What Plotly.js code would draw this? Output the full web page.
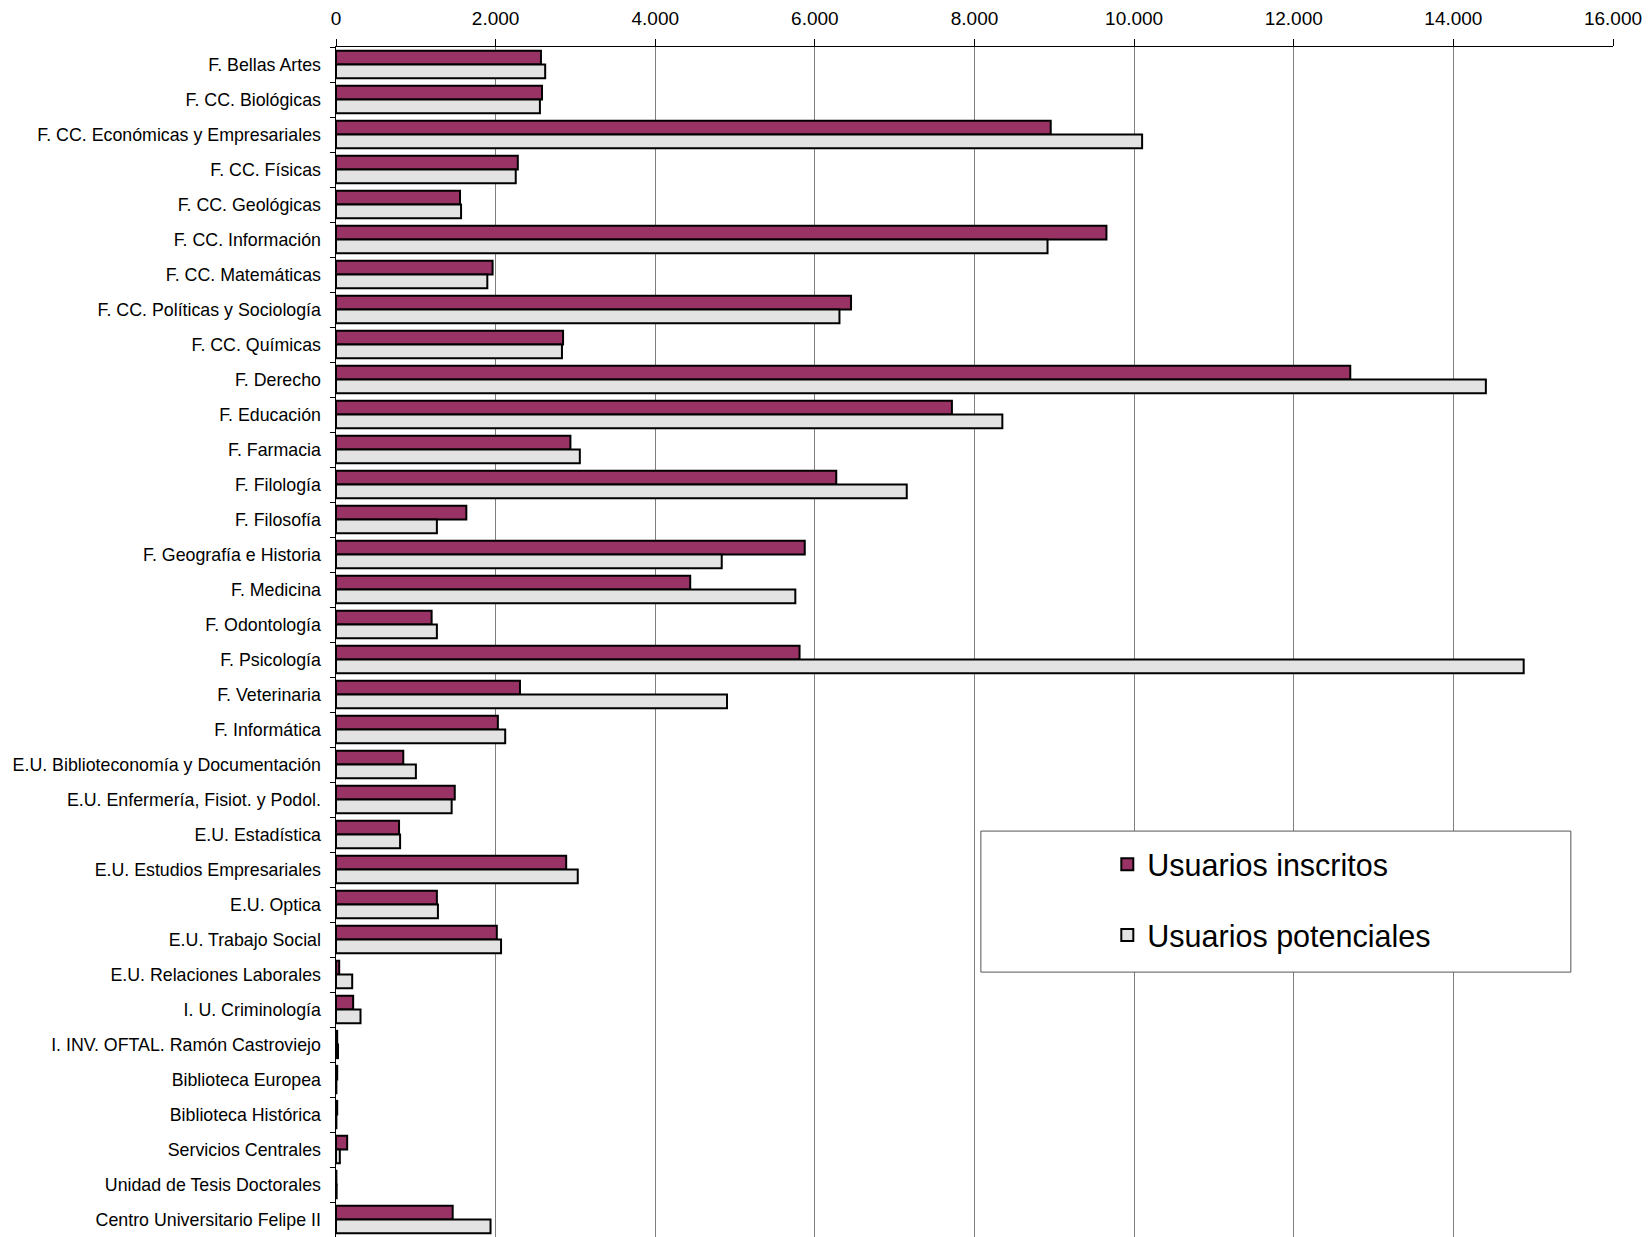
<!DOCTYPE html>
<html>
<head>
<meta charset="utf-8">
<script src="https://cdn.plot.ly/plotly-3.0.1.min.js"></script>
<style>html,body{margin:0;padding:0;background:#fff;}#chart{width:1648px;height:1237px;}</style>
</head>
<body>
<div id="chart"></div>
<script>
const categories = [
  "F. Bellas Artes",
  "F. CC. Biológicas",
  "F. CC. Económicas y Empresariales",
  "F. CC. Físicas",
  "F. CC. Geológicas",
  "F. CC. Información",
  "F. CC. Matemáticas",
  "F. CC. Políticas y Sociología",
  "F. CC. Químicas",
  "F. Derecho",
  "F. Educación",
  "F. Farmacia",
  "F. Filología",
  "F. Filosofía",
  "F. Geografía e Historia",
  "F. Medicina",
  "F. Odontología",
  "F. Psicología",
  "F. Veterinaria",
  "F. Informática",
  "E.U. Biblioteconomía y Documentación",
  "E.U. Enfermería, Fisiot. y Podol.",
  "E.U. Estadística",
  "E.U. Estudios Empresariales",
  "E.U. Optica",
  "E.U. Trabajo Social",
  "E.U. Relaciones Laborales",
  "I. U. Criminología",
  "I. INV. OFTAL. Ramón Castroviejo",
  "Biblioteca Europea",
  "Biblioteca Histórica",
  "Servicios Centrales",
  "Unidad de Tesis Doctorales",
  "Centro Universitario Felipe II"
];
const usuariosInscritos = [
  2568, 2581, 8955, 2278, 1554, 9653, 1962, 6453, 2845, 12708,
  7717, 2937, 6268, 1633, 5873, 4438, 1198, 5808, 2305, 2028,
  843, 1488, 790, 2884, 1264, 2015, 40, 215, 15, 15,
  15, 140, 5, 1462
];
const usuariosPotenciales = [
  2621, 2555, 10100, 2252, 1567, 8915, 1896, 6308, 2831, 14407,
  8349, 3055, 7151, 1264, 4833, 5755, 1264, 14881, 4899, 2120,
  1001, 1449, 803, 3029, 1277, 2068, 203, 307, 25, 5,
  5, 48, 8, 1936
];
const seriesNames = ["Usuarios inscritos", "Usuarios potenciales"];
const xTicks = [0, 2000, 4000, 6000, 8000, 10000, 12000, 14000, 16000];

const traces = [
  {
    type: "bar", orientation: "h", name: seriesNames[0],
    y: categories, x: usuariosInscritos,
    marker: {color: "#993366", line: {color: "#000000", width: 2}},
    legendgroup: "a", hoverinfo: "x+y"
  },
  {
    type: "bar", orientation: "h", name: seriesNames[1],
    y: categories, x: usuariosPotenciales,
    marker: {color: "#E3E3E3", line: {color: "#000000", width: 2}},
    legendgroup: "b", hoverinfo: "x+y"
  }
];

const layout = {
  width: 1648, height: 1237,
  margin: {l: 335.5, r: 34.7, t: 46.7, b: 0, pad: 0},
  paper_bgcolor: "#ffffff", plot_bgcolor: "#ffffff",
  font: {family: "Liberation Sans, Arial, sans-serif", color: "#000000"},
  separators: ",.",
  barmode: "group", bargap: 0.22, bargroupgap: 0,
  showlegend: true,
  xaxis: {
    side: "top", range: [0, 16000], tickvals: xTicks, tickformat: ",d",
    showgrid: true, gridcolor: "#7f7f7f", gridwidth: 1,
    zeroline: false, showline: true, linecolor: "#000000", linewidth: 1.5,
    ticks: "outside", ticklen: 7, tickcolor: "#000000", tickwidth: 1,
    ticklabelstandoff: 6,
    tickfont: {size: 19, color: "#000000"}, fixedrange: true
  },
  yaxis: {
    type: "category", autorange: "reversed",
    showline: true, linecolor: "#000000", linewidth: 1.5,
    ticks: "outside", tickson: "boundaries", ticklen: 5, tickcolor: "#000000",
    showgrid: false, zeroline: false,
    tickfont: {size: 17.8, color: "#000000"}, ticklabelstandoff: 10, fixedrange: true
  },
  legend: {
    x: 0.604, y: 0.3353, xanchor: "left", yanchor: "top",
    bgcolor: "rgba(0,0,0,0)", borderwidth: 0,
    font: {size: 30.5, color: "#000000"},
    traceorder: "grouped", tracegroupgap: 28, itemwidth: 30
  },
  shapes: [{
    type: "rect", xref: "paper", yref: "paper",
    x0: 0.505, x1: 0.967, y0: 0.2226, y1: 0.3411,
    fillcolor: "#ffffff", line: {color: "#555555", width: 1}, layer: "above"
  }]
};

Plotly.newPlot("chart", traces, layout, {displayModeBar: false, staticPlot: true});
</script>
</body>
</html>
